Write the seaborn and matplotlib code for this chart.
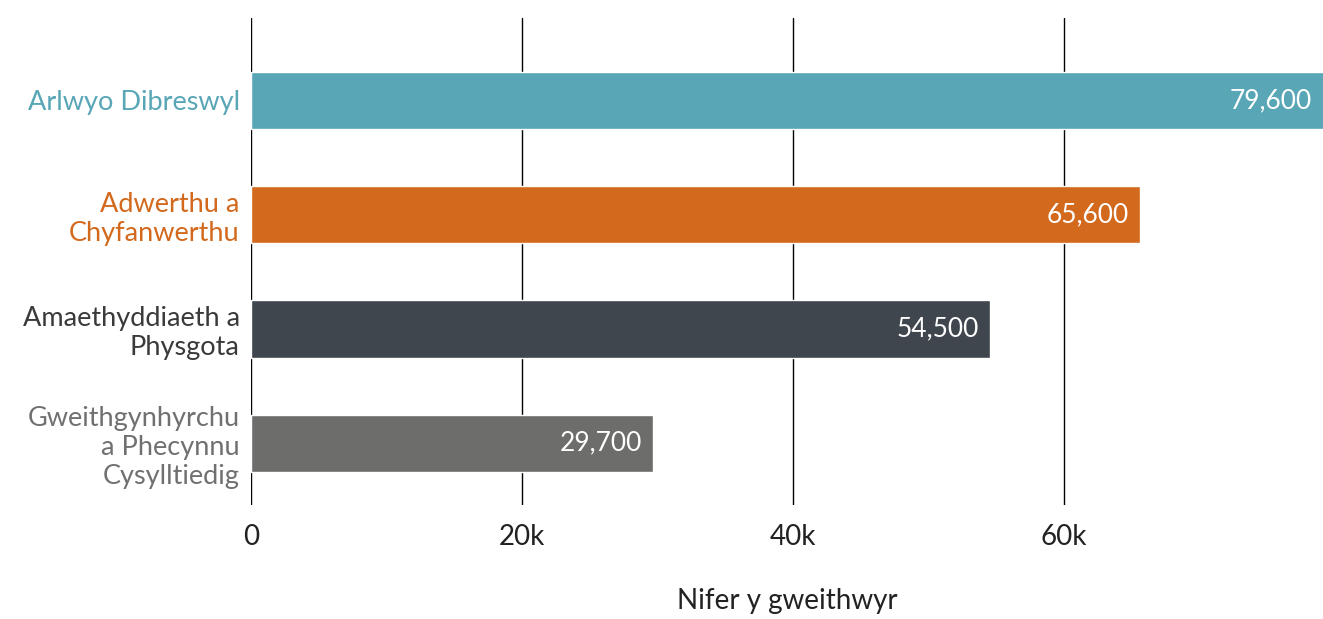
import matplotlib
matplotlib.use("Agg")
import matplotlib.pyplot as plt
import seaborn as sns
import pandas as pd

# chart data
sectors = ["Arlwyo Dibreswyl", "Adwerthu a\nChyfanwerthu",
           "Amaethyddiaeth a\nPhysgota", "Gweithgynhyrchu\na Phecynnu\nCysylltiedig"]
workers = [79600, 65600, 54500, 29700]
bar_colors = ["#59A6B6", "#D2691D", "#3F464E", "#6D6D6B"]
label_colors = ["#59A6B6", "#D2691D", "#3A3A3A", "#707070"]
x_ticks = [0, 20000, 40000, 60000]
x_tick_labels = ["0", "20k", "40k", "60k"]
x_title = "Nifer y gweithwyr"

sns.set_theme(style="white")
plt.rcParams["font.family"] = ["Lato", "DejaVu Sans"]

df = pd.DataFrame({"sector": sectors, "workers": workers})

fig = plt.figure(figsize=(13.23, 6.19), dpi=100)
ax = fig.add_axes([0.1897, 0.1842, 0.8103, 0.7867])

sns.barplot(data=df, y="sector", x="workers", hue="sector", palette=bar_colors,
            orient="h", width=0.5, legend=False, saturation=1, ax=ax)

x_max = 79100
ax.set_xlim(0, x_max)
ax.set_ylim(3.54, -0.72)

ax.set_xticks(x_ticks)
ax.set_xticklabels(x_tick_labels, fontsize=20, color="#222222")
ax.tick_params(axis="x", length=0, pad=14)
ax.tick_params(axis="y", length=0, pad=8)
ax.set_yticks(range(len(sectors)))
ax.set_yticklabels(sectors, fontsize=19.5, linespacing=1.2)
for lbl, c in zip(ax.get_yticklabels(), label_colors):
    lbl.set_color(c)
    lbl.set_horizontalalignment("right")

ax.xaxis.grid(True, color="black", linewidth=1)
ax.set_axisbelow(True)
for s in ax.spines.values():
    s.set_visible(False)

for i, v in enumerate(workers):
    ax.annotate(f"{v:,}", xy=(min(v, x_max), i), xytext=(-8, 0),
                textcoords="offset points", ha="right", va="center",
                color="white", fontsize=19, zorder=3)

ax.set_ylabel("")
ax.set_xlabel(x_title, fontsize=20, color="#222222", labelpad=27)

fig.savefig("out.png", dpi=100)
